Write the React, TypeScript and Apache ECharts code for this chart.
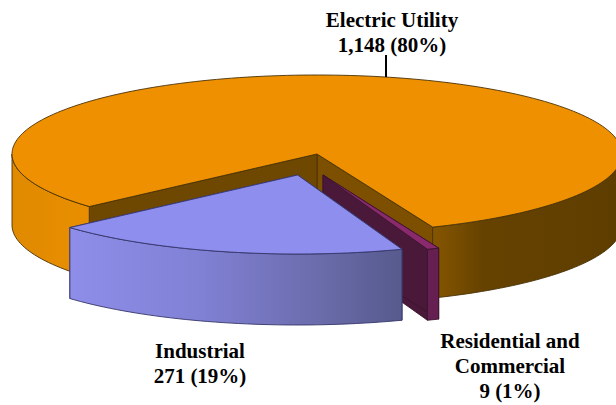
import React, { useEffect, useRef } from "react";
import * as echarts from "echarts";

const categories = ["Industrial", "Residential and\nCommercial", "Electric Utility"];
const values = [271, 9, 1148];
const valueLabels = ["271 (19%)", "9 (1%)", "1,148 (80%)"];

const W = 616, H = 405;
const A = 305, B = 79, DEPTH = 71;
const START = 138.3;
const apexes = [[297.6, 175], [323, 175], [317, 154]];
const topColor = ["#8e8eee", "#8a2a6c", "#ee9000"];
const lineColor = ["#35356a", "#3a1430", "#4a3208"];
const wallL = ["#8e8eee", "#4a1838", "#7c5000"];
const wallR = ["#5a5c90", "#4a1838", "#6e4800"];
const sideGrad = [
  { x: 70, x2: 403, stops: [[0, "#8e8eea"], [0.4, "#8080d4"], [0.75, "#6a6cab"], [1, "#565a8c"]] },
  { x: 427, x2: 438, stops: [[0, "#651f50"], [1, "#651f50"]] },
  { x: 12, x2: 616, stops: [[0, "#e08a00"], [0.2, "#ee9000"], [0.68, "#8c5a00"], [0.78, "#664200"], [1, "#5e3e00"]] },
];

const total = values.reduce((s, v) => s + v, 0);

function rim(ax: number, ay: number, deg: number): number[] {
  const r = (deg * Math.PI) / 180;
  return [ax + A * Math.cos(r), ay + B * Math.sin(r)];
}
function arc(ax: number, ay: number, from: number, to: number): number[][] {
  const n = Math.max(2, Math.ceil(Math.abs(to - from) / 1.5));
  const pts: number[][] = [];
  for (let i = 0; i <= n; i++) pts.push(rim(ax, ay, from + ((to - from) * i) / n));
  return pts;
}

function renderSlice(params: any, api: any) {
  const idx = params.dataIndex;
  let before = 0;
  for (let i = 0; i < idx; i++) before += values[i];
  const hi = START - (before / total) * 360;
  const lo = hi - (api.value(0) / total) * 360;
  const [ax, ay] = apexes[idx];
  const children: any[] = [];
  const stroke = { stroke: lineColor[idx], lineWidth: 0.9, lineJoin: "round" };
  const g = sideGrad[idx];
  const gradient = {
    type: "linear", x: g.x, y: 0, x2: g.x2, y2: 0, global: true,
    colorStops: g.stops.map(([offset, color]) => ({ offset, color })),
  };
  const wall = (deg: number, fill: string) => {
    const p = rim(ax, ay, deg);
    children.push({
      type: "polygon",
      shape: { points: [[ax, ay], p, [p[0], p[1] + DEPTH], [ax, ay + DEPTH]] },
      style: { fill, ...stroke },
    });
  };
  wall(hi, wallL[idx]);
  wall(lo, wallR[idx]);
  for (let k = -1; k <= 0; k++) {
    const f0 = Math.max(lo, k * 360);
    const f1 = Math.min(hi, k * 360 + 180);
    if (f1 > f0) {
      const front = arc(ax, ay, f0, f1);
      const back = front.map(([x, y]) => [x, y + DEPTH]).reverse();
      children.push({
        type: "polygon",
        shape: { points: front.concat(back) },
        style: { fill: gradient, ...stroke },
      });
    }
  }
  children.push({
    type: "polygon",
    shape: { points: [[ax, ay], ...arc(ax, ay, lo, hi)] },
    style: { fill: topColor[idx], ...stroke },
  });
  return { type: "group", children };
}

const font = { fontFamily: "Liberation Serif", fontWeight: "bold", fontSize: 21, fill: "#000", textAlign: "center", textVerticalAlign: "middle", lineHeight: 25 };
const labelPos = [[200, 363], [510, 366], [392, 32]];

export default function App() {
  const ref = useRef<HTMLDivElement>(null);
  useEffect(() => {
    const chart = echarts.init(ref.current!, undefined, { renderer: "svg" });
    chart.setOption({
      animation: false,
      backgroundColor: "#fff",
      series: [
        {
          type: "custom",
          coordinateSystem: "none",
          silent: true,
          clip: false,
          data: [2, 1, 0].map((i) => ({ value: [values[i], i], name: categories[i] })),
          renderItem: (params: any, api: any) => renderSlice({ dataIndex: api.value(1) }, api),
        },
      ],
      graphic: [
        { type: "line", shape: { x1: 386, y1: 55, x2: 386, y2: 77 }, style: { stroke: "#000", lineWidth: 2 }, z: 10 },
        ...categories.map((c, i) => ({
          type: "text", x: labelPos[i][0], y: labelPos[i][1], z: 10,
          style: { ...font, text: c + "\n" + valueLabels[i] },
        })),
      ],
    });
    return () => chart.dispose();
  }, []);
  return <div ref={ref} style={{ position: "absolute", left: 0, top: 0, width: W, height: H }} />;
}
